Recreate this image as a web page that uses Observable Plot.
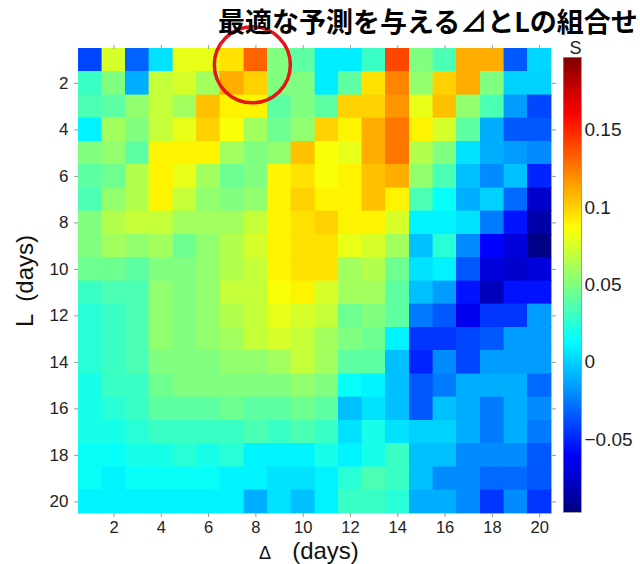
<!DOCTYPE html>
<html>
<head>
<meta charset="utf-8">
<script src="https://cdn.jsdelivr.net/npm/d3@7"></script>
<script src="https://cdn.jsdelivr.net/npm/@observablehq/plot@0.6"></script>
<style>
  html, body { margin: 0; padding: 0; background: #fff; }
  #wrap { position: relative; width: 640px; height: 564px; overflow: hidden; font-family: "Liberation Sans", Arial, sans-serif; }
  #title { position: absolute; left: 218px; top: 7px; height: 27px; font-family: "Noto Sans CJK JP", sans-serif; font-weight: bold; font-size: 27px; line-height: 27px; white-space: nowrap; color: #000; }
  #main { position: absolute; left: 0; top: 0; }
  #cbar { position: absolute; left: 563px; top: 30px; }
</style>
</head>
<body>
<div id="wrap">
  <div id="main"></div>
  <div id="cbar"></div>
  <div id="title"></div>
</div>
<script>
// Δ (days) columns and L (days) rows
const deltas = d3.range(1, 21);
const lags = d3.range(1, 21);
const xTicks = [2, 4, 6, 8, 10, 12, 14, 16, 18, 20];
const yTicks = [2, 4, 6, 8, 10, 12, 14, 16, 18, 20];
const cbarTicks = [-0.05, 0, 0.05, 0.1, 0.15];
const sDomain = [-0.097, 0.197];
const titleText = "最適な予測を与える⊿とLの組合せ";
const xLabelSymbol = "Δ";
const xLabelUnit = "(days)";
const yLabel = "L\u2002(days)";
const cbarLabel = "S";
// highlighted optimum (Δ, L) circled in red
const highlight = [{d: 7.85, l: 1.2}];

// S values, one row per L = 1..20, columns Δ = 1..20
const S = [
  [-0.040, 0.075, -0.032, 0.005, 0.080, 0.080, 0.095, 0.132, 0.050, 0.040, 0.008, 0.008, 0.030, 0.140, 0.050, 0.035, 0.110, 0.110, -0.035, 0.002],
  [0.030, 0.050, -0.010, 0.070, 0.075, 0.060, 0.110, 0.100, 0.050, 0.050, 0.008, 0.040, 0.095, 0.122, 0.055, 0.100, 0.110, 0.050, 0.000, 0.000],
  [0.035, 0.040, 0.055, 0.070, 0.060, 0.105, 0.090, 0.090, 0.040, 0.050, 0.040, 0.100, 0.100, 0.118, 0.080, 0.105, 0.055, 0.035, -0.015, -0.040],
  [0.010, 0.060, 0.050, 0.070, 0.080, 0.100, 0.085, 0.060, 0.045, 0.055, 0.100, 0.090, 0.110, 0.126, 0.090, 0.075, 0.040, -0.010, -0.035, -0.035],
  [0.050, 0.055, 0.040, 0.090, 0.090, 0.090, 0.060, 0.050, 0.055, 0.105, 0.085, 0.080, 0.110, 0.126, 0.065, 0.050, 0.005, -0.010, -0.015, -0.020],
  [0.040, 0.045, 0.065, 0.090, 0.080, 0.060, 0.045, 0.050, 0.090, 0.095, 0.085, 0.090, 0.105, 0.110, 0.055, 0.035, -0.005, -0.020, -0.005, -0.050],
  [0.035, 0.055, 0.065, 0.090, 0.070, 0.055, 0.050, 0.055, 0.090, 0.100, 0.090, 0.090, 0.105, 0.090, 0.035, 0.015, -0.010, 0.000, -0.030, -0.075],
  [0.050, 0.065, 0.070, 0.070, 0.060, 0.060, 0.060, 0.070, 0.090, 0.095, 0.100, 0.090, 0.090, 0.075, 0.010, 0.010, 0.005, -0.025, -0.055, -0.085],
  [0.050, 0.060, 0.055, 0.060, 0.045, 0.055, 0.065, 0.075, 0.090, 0.095, 0.095, 0.080, 0.075, 0.060, -0.005, 0.025, -0.020, -0.060, -0.070, -0.095],
  [0.045, 0.045, 0.040, 0.050, 0.050, 0.055, 0.065, 0.070, 0.090, 0.095, 0.095, 0.060, 0.065, 0.045, 0.005, 0.010, -0.035, -0.070, -0.075, -0.070],
  [0.030, 0.035, 0.035, 0.055, 0.050, 0.055, 0.070, 0.070, 0.085, 0.090, 0.075, 0.060, 0.060, 0.040, -0.005, -0.015, -0.055, -0.080, -0.055, -0.055],
  [0.025, 0.030, 0.035, 0.055, 0.050, 0.055, 0.065, 0.070, 0.080, 0.075, 0.070, 0.045, 0.050, 0.040, -0.025, -0.035, -0.065, -0.045, -0.045, -0.015],
  [0.025, 0.030, 0.035, 0.055, 0.050, 0.055, 0.060, 0.070, 0.075, 0.070, 0.060, 0.050, 0.045, 0.010, -0.045, -0.045, -0.040, -0.035, -0.015, -0.015],
  [0.025, 0.030, 0.035, 0.050, 0.050, 0.050, 0.055, 0.055, 0.060, 0.070, 0.060, 0.040, 0.040, -0.005, -0.050, -0.020, -0.040, -0.015, -0.015, -0.015],
  [0.020, 0.030, 0.030, 0.045, 0.050, 0.050, 0.050, 0.050, 0.050, 0.055, 0.050, 0.015, 0.010, -0.005, -0.035, -0.025, -0.010, -0.010, -0.010, -0.030],
  [0.020, 0.025, 0.030, 0.040, 0.040, 0.040, 0.045, 0.040, 0.040, 0.045, 0.040, -0.005, 0.005, -0.005, -0.035, -0.005, -0.010, -0.025, -0.010, -0.020],
  [0.020, 0.020, 0.025, 0.030, 0.030, 0.030, 0.030, 0.035, 0.030, 0.035, 0.030, 0.005, 0.020, 0.005, 0.000, 0.000, -0.010, -0.025, -0.010, -0.025],
  [0.015, 0.015, 0.020, 0.020, 0.025, 0.020, 0.025, 0.010, 0.010, 0.010, 0.020, 0.010, 0.020, 0.030, -0.005, -0.005, -0.020, -0.020, -0.020, -0.035],
  [0.015, 0.010, 0.015, 0.015, 0.015, 0.015, 0.010, 0.010, 0.005, 0.005, 0.010, 0.025, 0.035, 0.030, -0.005, -0.020, -0.020, -0.030, -0.030, -0.035],
  [0.010, 0.010, 0.010, 0.010, 0.010, 0.010, 0.010, -0.010, 0.005, -0.005, 0.010, 0.030, 0.030, 0.025, -0.010, -0.010, -0.020, -0.045, -0.020, -0.045]
];

document.getElementById("title").textContent = titleText;

// MATLAB-style jet colormap
function jet(t) {
  const c = v => Math.round(255 * Math.max(0, Math.min(1, v)));
  return `rgb(${c(1.5 - Math.abs(4 * t - 3))},${c(1.5 - Math.abs(4 * t - 2))},${c(1.5 - Math.abs(4 * t - 1))})`;
}
const colorScale = {type: "linear", domain: sDomain, interpolate: jet};

const cells = lags.flatMap((l, i) => deltas.map((d, j) => ({d, l, s: S[i][j]})));

const font = "Liberation Sans, Arial, sans-serif";
const tickColor = "#222";

const main = Plot.plot({
  width: 640,
  height: 564,
  marginLeft: 78,
  marginRight: 89,
  marginTop: 48,
  marginBottom: 51,
  style: {fontFamily: font, background: "transparent", overflow: "visible"},
  x: {domain: [0.5, 20.5]},
  y: {domain: [0.5, 20.5], reverse: true},
  color: colorScale,
  marks: [
    Plot.rect(cells, {x1: d => d.d - 0.5, x2: d => d.d + 0.5, y1: d => d.l - 0.5, y2: d => d.l + 0.5, fill: "s", stroke: "s", strokeWidth: 0.4, shapeRendering: "crispEdges"}),
    Plot.axisX({anchor: "bottom", ticks: xTicks, tickSize: 4, tickPadding: 4, fontSize: 16.5, stroke: "#999", fill: tickColor, label: null}),
    Plot.axisX({anchor: "top", ticks: xTicks, tickSize: 4, tickFormat: () => "", stroke: "#999", label: null}),
    Plot.axisY({anchor: "left", ticks: yTicks, tickSize: 4, tickPadding: 6, fontSize: 17, stroke: "#999", fill: tickColor, label: null}),
    Plot.axisY({anchor: "right", ticks: yTicks, tickSize: 4, tickFormat: () => "", stroke: "#999", label: null}),
    Plot.text([xLabelSymbol], {frameAnchor: "bottom", textAnchor: "middle", lineAnchor: "middle", dx: -50, dy: 39.5, fontSize: 18, fill: "#111", fontFamily: font}),
    Plot.text([xLabelUnit], {frameAnchor: "bottom", textAnchor: "middle", lineAnchor: "middle", dx: 10.5, dy: 37.5, fontSize: 24, fill: "#111", fontFamily: font}),
    Plot.text([yLabel], {frameAnchor: "left", textAnchor: "middle", lineAnchor: "middle", dx: -53, rotate: -90, fontSize: 24, fill: "#111", fontFamily: font}),
    Plot.dot(highlight, {x: "d", y: "l", r: 38, stroke: "#e8141b", strokeWidth: 3.5, fill: "none"})
  ]
});
document.getElementById("main").appendChild(main);

// vertical colorbar
const nSteps = 150;
const step = (sDomain[1] - sDomain[0]) / nSteps;
const bands = d3.range(nSteps).map(i => ({v0: sDomain[0] + i * step, v1: sDomain[0] + (i + 1) * step}));

const cbar = Plot.plot({
  width: 77,
  height: 27 + 455 + 10,
  marginLeft: 0,
  marginRight: 59,
  marginTop: 27,
  marginBottom: 10,
  style: {fontFamily: font, background: "transparent", overflow: "visible"},
  x: {domain: [0, 1], axis: null},
  y: {domain: sDomain},
  color: colorScale,
  marks: [
    Plot.rect(bands, {x1: 0, x2: 1, y1: "v0", y2: "v1", fill: d => (d.v0 + d.v1) / 2, shapeRendering: "crispEdges"}),
    Plot.frame({stroke: "#888", strokeWidth: 0.8}),
    Plot.axisY({anchor: "right", ticks: cbarTicks, tickSize: 0, tickPadding: 3, fontSize: 19, fill: tickColor, label: null,
      tickFormat: v => (v < 0 ? "\u2212" : "") + String(Math.abs(v))}),
    Plot.text([cbarLabel], {frameAnchor: "top", textAnchor: "middle", lineAnchor: "middle", dx: 3, dy: -9, fontSize: 18, fill: "#222", fontFamily: font})
  ]
});
document.getElementById("cbar").appendChild(cbar);
</script>
</body>
</html>
